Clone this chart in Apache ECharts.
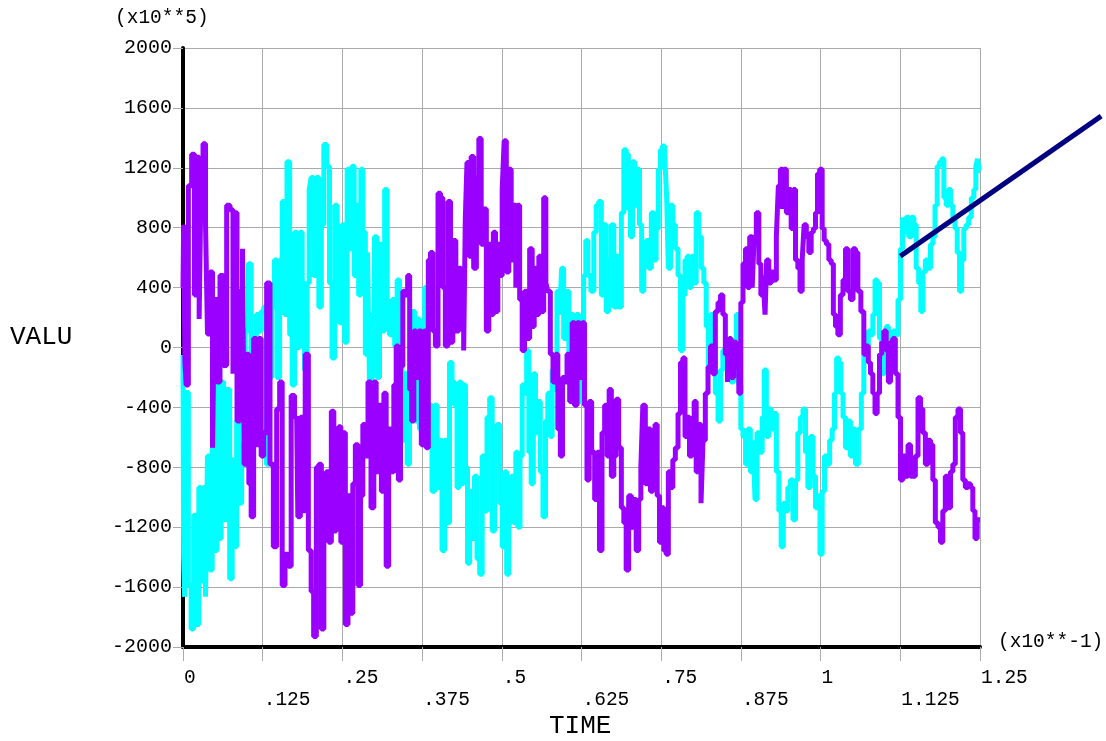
<!DOCTYPE html>
<html>
<head>
<meta charset="utf-8">
<script src="https://cdn.jsdelivr.net/npm/echarts@6/dist/echarts.min.js"></script>
<style>html,body{margin:0;padding:0;background:#fff}#c{width:1106px;height:741px}</style>
</head>
<body>
<div id="c"></div>
<script>
var xTickLabels = ['0', '.125', '.25', '.375', '.5', '.625', '.75', '.875', '1', '1.125', '1.25'];
var xMin = 0, xMax = 1.25, xStep = 0.125;
var yMin = -2000, yMax = 2000, yStep = 400;

var purpleSeries = [
[0,400],[0.002,820],[0.004,-100],[0.0058,-250],[0.011,1080],[0.0162,1290],[0.0199,350],[0.024,1270],[0.0267,190],[0.0293,1030],
[0.0335,1360],[0.0371,830],[0.0397,90],[0.045,505],[0.0476,-670],[0.0512,320],[0.0554,-230],[0.0606,480],[0.0659,-120],[0.0711,950],
[0.0763,920],[0.0805,-175],[0.0826,900],[0.0868,-490],[0.092,375],[0.0946,660],[0.0972,-780],[0.1014,-45],[0.1051,-910],[0.1087,-1130],
[0.1129,60],[0.1171,-650],[0.1208,60],[0.1244,-725],[0.1286,-570],[0.1338,430],[0.1391,-780],[0.1443,-1330],[0.1495,-410],[0.1537,-230],
[0.1574,-1590],[0.1626,-1380],[0.1678,-1460],[0.1715,-320],[0.1783,-465],[0.1819,-1130],[0.1861,-465],[0.1893,-1090],[0.194,-45],[0.1992,-1355],
[0.2028,-1630],[0.207,-1930],[0.2112,-800],[0.2149,-780],[0.2191,-1880],[0.2227,-935],[0.2264,-830],[0.2306,-1300],[0.2347,-425],[0.2384,-1225],
[0.2421,-960],[0.2462,-530],[0.2489,-1300],[0.2525,-570],[0.2567,-1850],[0.2609,-990],[0.2645,-1775],[0.2682,-910],[0.2724,-650],[0.2766,-1590],
[0.2802,-990],[0.2839,-515],[0.2881,-725],[0.2922,-230],[0.2975,-1070],[0.3011,-230],[0.3048,-830],[0.309,-385],[0.3132,-960],[0.3168,-305],
[0.3205,-1460],[0.3247,-545],[0.3288,-830],[0.3325,-250],[0.3362,10],[0.3393,-885],[0.343,-125],[0.3466,375],[0.3508,350],[0.3539,480],
[0.3571,-280],[0.3602,-490],[0.3639,110],[0.3675,-200],[0.3717,110],[0.3759,-650],[0.3796,110],[0.3832,-670],[0.3863,585],[0.39,635],
[0.3937,110],[0.3979,10],[0.402,1030],[0.4057,1000],[0.4094,400],[0.4135,10],[0.4177,975],[0.4214,35],[0.425,715],[0.4308,110],
[0.4344,530],[0.4381,270],[0.4423,-20],[0.4433,870],[0.4475,1235],[0.4501,610],[0.4538,1275],[0.458,530],[0.4622,1135],[0.4658,1395],
[0.4695,690],[0.4737,925],[0.4778,110],[0.4815,690],[0.4852,220],[0.4883,770],[0.492,240],[0.4956,690],[0.4988,480],[0.5024,1055],
[0.505,1380],[0.5092,505],[0.5129,1190],[0.5165,585],[0.5207,950],[0.5233,400],[0.5259,950],[0.5301,320],[0.5338,-20],[0.5374,375],
[0.5416,60],[0.5458,660],[0.5495,140],[0.5521,530],[0.5563,220],[0.5599,610],[0.5636,240],[0.5678,1000],[0.5704,430],[0.574,375],
[0.5782,-45],[0.5824,-230],[0.5861,-45],[0.5897,-545],[0.5939,-725],[0.5965,-200],[0.6002,-230],[0.6044,-45],[0.6085,-360],[0.6122,165],
[0.6159,-385],[0.62,165],[0.6242,-200],[0.6279,165],[0.6315,-385],[0.6357,-885],[0.6383,-360],[0.6436,-700],[0.6477,-1015],[0.6514,-700],
[0.6551,-1355],[0.6592,-570],[0.6634,-385],[0.6671,-725],[0.6697,-280],[0.6739,-860],[0.6775,-725],[0.6812,-345],[0.6854,-670],[0.6896,-1070],
[0.6932,-1170],[0.6969,-1485],[0.7011,-990],[0.7053,-1200],[0.7089,-1015],[0.7126,-1355],[0.7168,-1015],[0.7194,-800],[0.723,-385],[0.7272,-910],
[0.7314,-545],[0.7351,-960],[0.7387,-725],[0.7419,-515],[0.7455,-990],[0.7492,-1300],[0.7523,-1070],[0.756,-1355],[0.7596,-1380],[0.7628,-830],
[0.7664,-935],[0.7701,-750],[0.7743,-670],[0.7785,-440],[0.7821,-100],[0.7858,-70],[0.7889,-595],[0.7926,-465],[0.7962,-725],[0.8004,-465],
[0.803,-360],[0.8067,-830],[0.8109,-515],[0.814,-1040],[0.8171,-620],[0.8213,-305],[0.8255,-130],[0.8292,10],[0.8328,-175],[0.837,240],
[0.8412,300],[0.8449,350],[0.8485,220],[0.8527,-45],[0.8553,-230],[0.8579,60],[0.8616,-200],[0.8658,35],[0.8699,-130],[0.8736,-305],
[0.8762,300],[0.8804,560],[0.8841,660],[0.8867,400],[0.8909,740],[0.8945,400],[0.8971,740],[0.9013,900],[0.905,560],[0.9076,350],
[0.9118,480],[0.9139,220],[0.917,585],[0.9206,430],[0.9243,505],[0.9285,450],[0.9327,740],[0.9348,1080],[0.939,1190],[0.9416,925],
[0.9442,1190],[0.9484,900],[0.952,1055],[0.9557,795],[0.9588,1055],[0.9625,585],[0.9661,530],[0.9693,375],[0.9729,585],[0.9755,820],
[0.9797,740],[0.9834,635],[0.987,770],[0.9902,795],[0.9938,900],[0.9965,1160],[1.0006,1190],[1.0043,795],[1.0069,715],[1.0111,690],
[1.0148,585],[1.0184,560],[1.0216,220],[1.0252,140],[1.0289,85],[1.0331,350],[1.0372,450],[1.0409,660],[1.0446,375],[1.0488,320],
[1.0529,660],[1.0566,635],[1.0603,375],[1.066,240],[1.0696,-45],[1.0733,10],[1.0764,-100],[1.0801,-175],[1.0838,-305],[1.0869,-440],
[1.0906,-305],[1.0942,-45],[1.0974,35],[1.101,110],[1.1047,-20],[1.1078,-230],[1.1115,35],[1.1151,60],[1.1193,-175],[1.1235,-465],
[1.1272,-885],[1.1308,-725],[1.135,-860],[1.1392,-650],[1.1428,-860],[1.1465,-860],[1.1507,-725],[1.1549,-335],[1.1585,-410],[1.1622,-570],
[1.1664,-780],[1.1705,-620],[1.1742,-650],[1.1779,-885],[1.182,-1170],[1.1862,-1200],[1.1899,-1300],[1.1935,-1090],[1.1977,-860],[1.2019,-1070],
[1.2056,-830],[1.2092,-780],[1.2134,-465],[1.2176,-410],[1.2212,-570],[1.2249,-885],[1.2291,-935],[1.2333,-910],[1.2369,-935],[1.2406,-1090],
[1.2437,-1275],[1.2474,-1150],[1.25,-1150]
];

var cyanSeries = [
[0,-50],[0.002,-1400],[0.0031,-1665],[0.0058,-300],[0.011,-1590],[0.0146,-1880],[0.0188,-1120],[0.023,-1850],[0.0267,-935],[0.0293,-1560],
[0.0335,-935],[0.0371,-1665],[0.0397,-725],[0.0439,-1485],[0.0476,-670],[0.0512,-1355],[0.0554,-150],[0.058,-1275],[0.0617,-230],[0.0659,-1150],
[0.0711,-280],[0.0753,-1545],[0.0789,-750],[0.0826,-1330],[0.0857,-490],[0.0894,-1040],[0.0946,-650],[0.0999,110],[0.1051,560],[0.1087,-250],
[0.1129,60],[0.1171,220],[0.1208,110],[0.1244,240],[0.1286,270],[0.1328,-780],[0.1364,-200],[0.1417,270],[0.1453,585],[0.1495,-200],
[0.1537,585],[0.1574,975],[0.161,220],[0.1652,1240],[0.1694,85],[0.173,-250],[0.1767,770],[0.1809,0],[0.1851,770],[0.1887,430],
[0.1924,-150],[0.1966,430],[0.1992,1055],[0.2028,1135],[0.207,480],[0.2112,1135],[0.2149,270],[0.2191,820],[0.2227,1355],[0.2279,1210],
[0.2316,430],[0.2358,-70],[0.24,950],[0.2436,795],[0.2473,165],[0.2515,820],[0.2556,35],[0.2593,1190],[0.263,660],[0.2671,1210],
[0.2698,480],[0.2734,950],[0.2776,350],[0.2802,1190],[0.2839,770],[0.2881,-45],[0.2907,635],[0.2943,-250],[0.2985,220],[0.3022,740],
[0.3064,-200],[0.31,690],[0.3142,110],[0.3184,1055],[0.322,240],[0.3257,85],[0.3299,320],[0.3341,10],[0.3377,450],[0.3414,220],
[0.3456,-620],[0.3498,-175],[0.3534,-780],[0.3571,-230],[0.3613,240],[0.3654,-490],[0.3691,190],[0.3728,-545],[0.3769,165],[0.3811,400],
[0.3848,-465],[0.3884,-385],[0.3926,-960],[0.3968,-385],[0.4005,-935],[0.4041,-620],[0.4083,-1355],[0.4125,-620],[0.4161,-1170],[0.4198,-100],
[0.424,-230],[0.4277,-385],[0.4318,-935],[0.4344,-230],[0.4381,-910],[0.4412,-250],[0.4449,-800],[0.4475,-1440],[0.4517,-960],[0.4554,-1275],
[0.459,-860],[0.4632,-1410],[0.4674,-1515],[0.471,-725],[0.4747,-1090],[0.4789,-465],[0.4831,-335],[0.4867,-1225],[0.4904,-545],[0.4946,-515],
[0.4988,-1040],[0.5024,-1330],[0.5061,-830],[0.5092,-1515],[0.5129,-1170],[0.5165,-860],[0.5207,-1170],[0.5233,-700],[0.527,-1200],[0.5301,-725],
[0.5338,-250],[0.5374,-305],[0.5406,-20],[0.5442,-700],[0.5479,-910],[0.551,-175],[0.5547,-570],[0.5583,-360],[0.5625,-830],[0.5667,-1130],
[0.5704,-490],[0.574,-305],[0.5772,-595],[0.5808,-150],[0.5845,-280],[0.5887,375],[0.5928,220],[0.5949,530],[0.5991,60],[0.6033,375],
[0.607,-45],[0.6106,220],[0.6148,-200],[0.619,220],[0.6227,-360],[0.6263,10],[0.6305,480],[0.6331,715],[0.6368,480],[0.6425,375],
[0.6462,770],[0.6498,950],[0.654,975],[0.6582,350],[0.6619,820],[0.6655,240],[0.6697,585],[0.6739,820],[0.6775,270],[0.6812,610],
[0.6854,270],[0.6896,900],[0.6932,1320],[0.6969,1290],[0.7,925],[0.7037,740],[0.7063,1240],[0.7105,950],[0.7141,1190],[0.7178,820],
[0.7209,375],[0.7246,585],[0.7283,715],[0.7324,530],[0.7366,900],[0.7403,585],[0.7439,795],[0.7471,1190],[0.7507,1320],[0.7534,1345],
[0.7575,1290],[0.7596,1000],[0.7628,530],[0.7664,950],[0.7701,820],[0.7743,660],[0.7785,480],[0.7821,-20],[0.7858,350],[0.7889,585],
[0.7926,610],[0.7952,400],[0.7994,610],[0.803,430],[0.8067,900],[0.8109,740],[0.8151,530],[0.8187,430],[0.8224,140],[0.8255,-130],
[0.8292,220],[0.8328,10],[0.837,-305],[0.8412,-490],[0.8449,-150],[0.8485,-20],[0.8543,-70],[0.8579,35],[0.8616,-230],[0.8658,-70],
[0.8699,220],[0.8736,-250],[0.8762,-545],[0.8804,-595],[0.8841,-780],[0.8877,-545],[0.8919,-830],[0.8961,-620],[0.8982,-1015],[0.9024,-570],
[0.9065,-700],[0.9102,-465],[0.9128,-150],[0.917,-595],[0.9206,-410],[0.9243,-545],[0.9285,-440],[0.9327,-830],[0.9363,-1090],[0.94,-1330],
[0.9431,-1040],[0.9468,-1090],[0.9504,-935],[0.9546,-885],[0.9588,-1150],[0.9625,-885],[0.9661,-570],[0.9703,-465],[0.9745,-410],[0.9782,-700],
[0.9818,-935],[0.986,-595],[0.9902,-860],[0.9938,-1070],[0.9975,-990],[1.0006,-1380],[1.0043,-960],[1.008,-725],[1.0121,-780],[1.0163,-620],
[1.02,-545],[1.0236,-305],[1.0268,-70],[1.0304,-100],[1.0331,-305],[1.0372,-465],[1.0409,-670],[1.0446,-490],[1.0488,-725],[1.0529,-545],
[1.0566,-780],[1.0618,-545],[1.066,-305],[1.0696,-45],[1.0733,10],[1.0764,110],[1.0801,85],[1.0838,220],[1.0869,450],[1.0906,430],
[1.0942,60],[1.0974,-175],[1.101,60],[1.1047,140],[1.1078,85],[1.1115,10],[1.1151,110],[1.1193,85],[1.1235,320],[1.1272,660],
[1.1298,870],[1.1324,770],[1.1361,870],[1.1403,740],[1.1444,870],[1.1481,820],[1.1517,530],[1.1559,430],[1.1585,240],[1.1622,505],
[1.1664,585],[1.1705,530],[1.1742,690],[1.1779,740],[1.181,950],[1.1847,1210],[1.1884,1240],[1.1915,1260],[1.1952,1000],[1.1988,950],
[1.2019,1055],[1.2056,950],[1.2092,870],[1.2124,795],[1.2161,635],[1.2197,375],[1.2228,585],[1.2265,795],[1.2302,820],[1.2343,870],
[1.2385,1000],[1.2422,1055],[1.2448,1210],[1.2474,1260],[1.25,1180]
];

var navyLine = [[1.125, 610], [1.44, 1545]];

// plot geometry
var W = 1106, H = 741;
var gridLeft = 183, gridRight = 126, gridTop = 48, gridBottom = 94;
// an overlay grid, same scale, extended to the right edge of the canvas, for the annotation line that leaves the plot
var overlayMax = xMax * (W - gridLeft) / (W - gridLeft - gridRight);

var FONT = 'Liberation Mono';
var chart = echarts.init(document.getElementById('c'), null, {renderer: 'canvas'});
chart.setOption({
  animation: false,
  backgroundColor: '#ffffff',
  grid: [
    {left: gridLeft, right: gridRight, top: gridTop, bottom: gridBottom, containLabel: false},
    {left: gridLeft, right: 0, top: gridTop, bottom: gridBottom, containLabel: false}
  ],
  xAxis: [{
    type: 'value', gridIndex: 0, min: xMin, max: xMax, interval: xStep,
    axisLine: {show: true, onZero: false, lineStyle: {color: '#000', width: 4}},
    axisTick: {show: true, length: 14, lineStyle: {color: '#aaaaaa', width: 1}},
    splitLine: {show: true, lineStyle: {color: '#aaaaaa', width: 1}},
    axisLabel: {
      show: true, margin: 20, color: '#000', fontFamily: FONT, fontSize: 19.5,
      align: 'left', lineHeight: 22, padding: [0, 0, 0, 1],
      showMinLabel: true, showMaxLabel: true,
      formatter: function (v) {
        var i = Math.round((v - xMin) / xStep);
        var s = xTickLabels[i] || '';
        return (i % 2 === 1) ? '\n' + s : s;
      }
    }
  }, {
    type: 'value', gridIndex: 1, min: xMin, max: overlayMax, show: false
  }],
  yAxis: [{
    type: 'value', gridIndex: 0, min: yMin, max: yMax, interval: yStep,
    axisLine: {show: true, onZero: false, lineStyle: {color: '#000', width: 4}},
    axisTick: {show: true, length: 10, lineStyle: {color: '#aaaaaa', width: 1}},
    splitLine: {show: true, lineStyle: {color: '#aaaaaa', width: 1}},
    axisLabel: {show: true, margin: 11, color: '#000', fontFamily: FONT, fontSize: 20,
      showMinLabel: true, showMaxLabel: true,
      formatter: function (v) { return String(v); }}
  }, {
    type: 'value', gridIndex: 1, min: yMin, max: yMax, show: false
  }],
  graphic: [
    {type: 'text', left: 115, top: 8, style: {text: '(x10**5)', font: '19.5px "Liberation Mono"', fill: '#000'}},
    {type: 'text', left: 998, top: 632, style: {text: '(x10**-1)', font: '19.5px "Liberation Mono"', fill: '#000'}},
    {type: 'text', left: 10, top: 324, style: {text: 'VALU', font: '26px "Liberation Mono"', fill: '#000'}},
    {type: 'text', left: 549, top: 713, style: {text: 'TIME', font: '26px "Liberation Mono"', fill: '#000'}}
  ],
  series: [
    {type: 'line', name: 'cyan', xAxisIndex: 0, yAxisIndex: 0, data: cyanSeries, showSymbol: false, symbol: 'none',
     step: 'middle', lineStyle: {color: '#00ffff', width: 5}, z: 3},
    {type: 'line', name: 'purple', xAxisIndex: 0, yAxisIndex: 0, data: purpleSeries, showSymbol: false, symbol: 'none',
     step: 'middle', lineStyle: {color: '#9900ff', width: 5}, z: 4},
    {type: 'line', name: 'navy', xAxisIndex: 1, yAxisIndex: 1, data: navyLine, showSymbol: false, symbol: 'none',
     lineStyle: {color: '#000080', width: 5}, z: 5}
  ]
});
</script>
</body>
</html>
